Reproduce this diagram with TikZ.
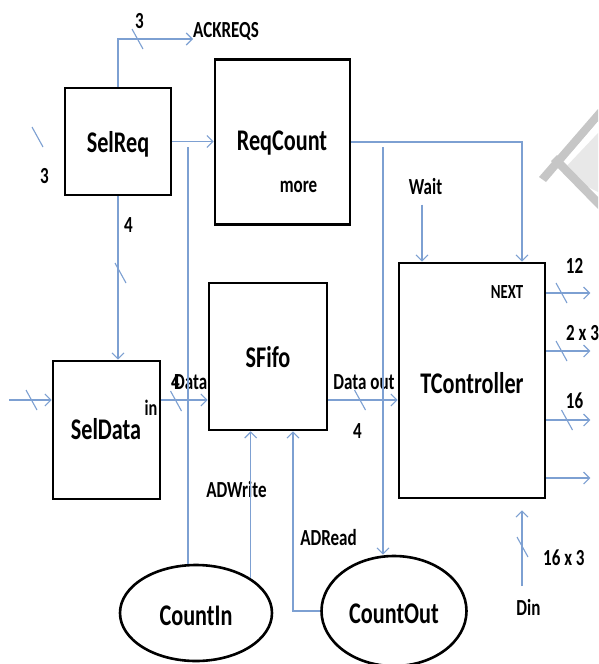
\documentclass[tikz,border=0pt]{standalone}
\usepackage{fontspec}
\setmainfont{Carlito}[FakeStretch=0.74]
\usetikzlibrary{arrows.meta,shapes.geometric}
\definecolor{sigblue}{HTML}{7DA0D2}
\definecolor{wmdark}{HTML}{C6C6C6}
\definecolor{wmlight}{HTML}{E8E8E8}
\tikzset{
  blk/.style={draw=black,line width=2.6pt,inner sep=0pt},
  unit/.style={blk,rectangle},
  ctr/.style={blk,ellipse},
  big/.style={font=\fontsize{30}{30}\selectfont\bfseries},
  lbl/.style={font=\fontsize{23}{23}\selectfont\bfseries,inner sep=0pt},
  sig/.style={draw=sigblue,line width=1.1pt},
  arr/.style={sig,-{Straight Barb[length=6pt,width=12pt]}},
  bus/.pic={\draw[sig] (-5.5,-10) -- (5.5,10);}
}
\begin{document}
\begin{tikzpicture}[x=1pt,y=-1pt]
\clip (0,0) rectangle (598,664);
\fill[white] (0,0) rectangle (598,664);

% faint watermark strokes in the corner
\fill[wmlight] (563,170) -- (598,133) -- (598,192) -- (586,186) -- cycle;
\fill[wmdark] (539,177) -- (598,109) -- (598,121) -- (546,182) -- cycle;
\fill[wmdark] (551,161) -- (557,155) -- (598,197) -- (598,209) -- cycle;
\fill[wmdark] (568,147) -- (595,118) -- (598,121) -- (572,151) -- cycle;

% functional units
\node[unit,minimum width=106pt,minimum height=107pt] (selreq) at (118,141.5) {};
\node[unit,minimum width=135pt,minimum height=165pt] (reqcount) at (282.5,142) {};
\node[unit,minimum width=118pt,minimum height=147pt] (sfifo) at (268,356.5) {};
\node[unit,minimum width=146pt,minimum height=235pt] (tctrl) at (472,380.5) {};
\node[unit,minimum width=107pt,minimum height=138pt] (seldata) at (106.5,430) {};
\node[ctr,minimum width=152pt,minimum height=96pt] (countin) at (196,613) {};
\node[ctr,minimum width=145pt,minimum height=110pt] (countout) at (394,611) {};

% unit names
\node[big] (tselreq) at (118,144) {SelReq};
\node[big] (treqcount) at (282,143) {ReqCount};
\node[big] (tsfifo) at (268,357) {SFifo};
\node[big] (ttctrl) at (472,383) {TController};
\node[big] (tseldata) at (106,429) {SelData};
\node[big] (tcountin) at (196,616) {CountIn};
\node[big] (tcountout) at (394,614) {CountOut};

% port and signal labels
\node[lbl] (more) at (298.5,187) {more};
\node[lbl,font=\fontsize{20}{20}\selectfont\bfseries] (next) at (507,292.5) {NEXT};
\node[lbl,font=\fontsize{22}{22}\selectfont\bfseries] (in) at (151,408) {in};
\node[lbl,anchor=west] (ack) at (193,31.5) {ACKREQS};
\node[lbl] (w3a) at (139.5,21) {3};
\node[lbl] (w3b) at (44.5,176.5) {3};
\node[lbl] (w4a) at (128.5,225.5) {4};
\node[lbl] (w4b) at (175.5,382) {4};
\node[lbl,anchor=west] (data) at (174,382) {Data};
\node[lbl] (dataout) at (364,382) {Data out};
\node[lbl] (w4c) at (357.5,431) {4};
\node[lbl] (wait) at (425.5,187) {Wait};
\node[lbl] (w12) at (574.5,266) {12};
\node[lbl,anchor=west] (w23) at (566,333.5) {2 x 3};
\node[lbl] (w16) at (574.5,401) {16};
\node[lbl,anchor=west] (w163) at (543,557.5) {16 x 3};
\node[lbl] (din) at (528.5,607.5) {Din};
\node[lbl] (adwrite) at (236.5,490) {ADWrite};
\node[lbl] (adread) at (328.5,537.5) {ADRead};

% helper points on the signal lines
\coordinate (ackend) at (193,39);
\coordinate (dataline) at (0,400);
\coordinate (inleft) at (9,400);
\coordinate (cinx) at (188,147);
\coordinate (coutx) at (383,147);
\coordinate (o1) at (0,293);
\coordinate (o2) at (0,351);
\coordinate (o3) at (0,420);
\coordinate (o4) at (0,478);
\coordinate (dinx) at (522,586);

% connections
\draw[arr] (selreq.north) |- (ackend);
\draw[arr] (selreq.east) -- (selreq.east -| reqcount.west);
\draw[arr] (selreq.south) -- (selreq.south |- seldata.north);
\draw[arr] (inleft) -- (inleft -| seldata.west);
\draw[arr] (seldata.east |- dataline) -- (sfifo.west |- dataline);
\draw[arr] (sfifo.east |- dataline) -- (tctrl.west |- dataline);
\draw[arr] (reqcount.east) -| ([xshift=50pt]tctrl.north);
\draw[arr] ([xshift=-50pt,yshift=57pt]tctrl.north) -- ([xshift=-50pt]tctrl.north);
\draw[sig] (cinx) -- (cinx |- countin.north);
\draw[arr] (coutx) -- (coutx |- countout.north);
\draw[arr] (countin.north east) -- (countin.north east |- sfifo.south);
\draw[arr] (countout.west) -| ([xshift=25pt]sfifo.south);
\draw[arr] (tctrl.east |- o1) -- ++(44,0);
\draw[arr] (tctrl.east |- o2) -- ++(44,0);
\draw[arr] (tctrl.east |- o3) -- ++(44,0);
\draw[arr] (tctrl.east |- o4) -- ++(44,0);
\draw[arr,shorten >=11pt] (dinx) -- (dinx |- tctrl.south);

% bus width marks
\pic at (137.5,39) {bus};
\pic at (37.5,137) {bus};
\pic at (120.5,273) {bus};
\pic at (31.5,400) {bus};
\pic at (176,401) {bus};
\pic at (360,400) {bus};
\pic at (561.5,293) {bus};
\pic at (561.5,351) {bus};
\pic at (567,420) {bus};
\pic at (522.5,547) {bus};
\end{tikzpicture}
\end{document}
